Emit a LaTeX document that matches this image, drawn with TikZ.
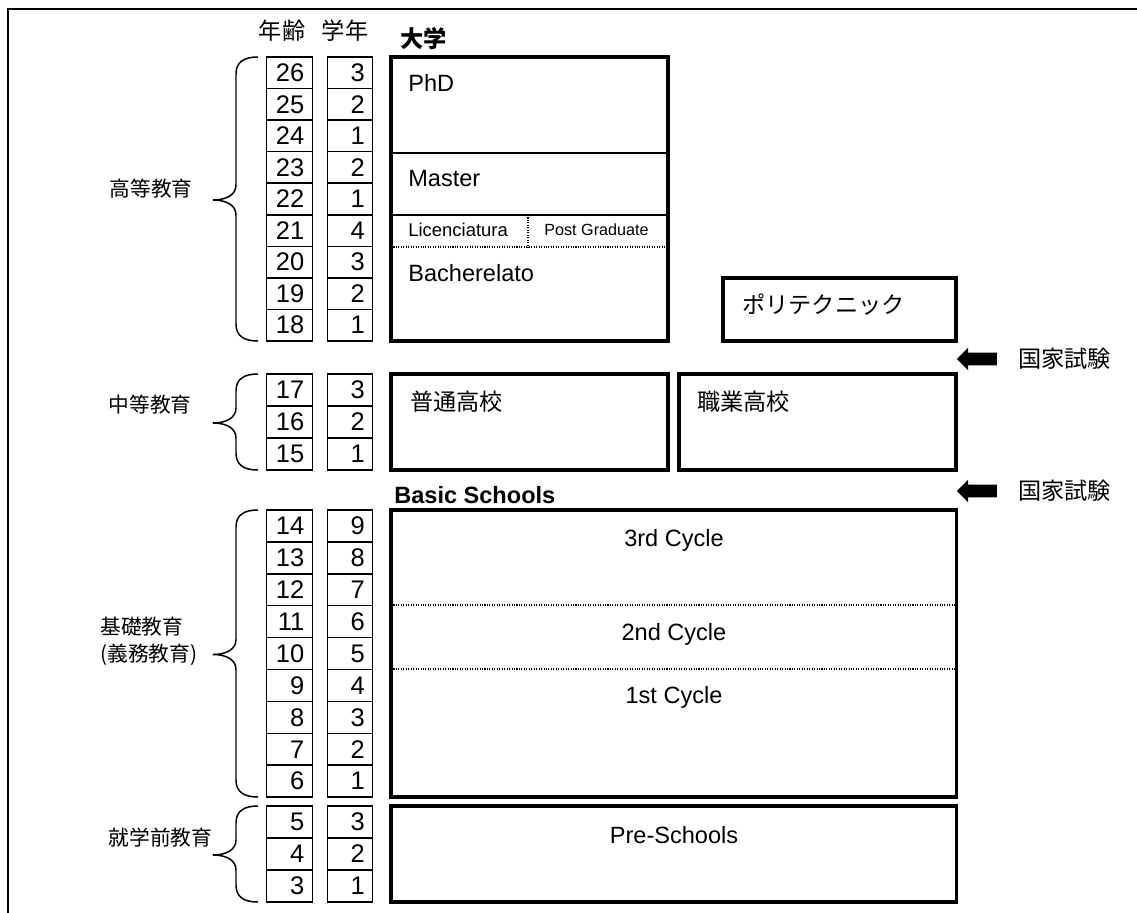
\documentclass[tikz,border=0pt]{standalone}
\usepackage{fontspec}
\setmainfont{Liberation Sans}
\newfontfamily\jp{Noto Sans CJK JP}
\usetikzlibrary{positioning,shapes.arrows}

\begin{document}
\begin{tikzpicture}[x=0.02cm,y=-0.02cm,
  cellbox/.style={draw,line width=0.75pt,minimum width=0.91cm,minimum height=0.635cm,
    inner xsep=0.16cm,inner ysep=0pt,text width=0.59cm,align=right,
    font=\fontsize{14.5}{14.5}\selectfont},
  schoolbox/.style={draw,line width=1.8pt,inner sep=0pt,outer sep=0pt,anchor=north west},
  schoollabel/.style={inner sep=0pt,anchor=base west,font=\fontsize{13.4}{16}\selectfont},
  jplabel/.style={inner sep=0pt,font=\jp\fontsize{13.2}{16}\selectfont},
  edulabel/.style={inner sep=0pt,font=\jp\fontsize{11.8}{15.3}\selectfont},
  bracepath/.style={line width=0.85pt},
  divline/.style={line width=0.75pt},
  dotline/.style={line width=0.8pt,dash pattern=on 0.6pt off 0.8pt},
  examarrow/.style={single arrow,fill=black,draw=none,minimum height=0.8cm,
    inner sep=0.12cm,single arrow head extend=0.1cm,shape border rotate=180}]
\useasboundingbox (0,0) rectangle (1137,913);

% outer frame
\draw[line width=0.85pt] (8,913) -- (8,9) -- (1137,9);

% column heads
\node[jplabel] (agehead) at (282,31) {年齢};
\node[jplabel] (gradehead) at (345,31) {学年};

% age / grade cells
\foreach \age/\gr [count=\i from 0] in {26/3,25/2,24/1,23/2,22/1,21/4,20/3,19/2,18/1} {
  \node[cellbox] (age\age) at (289.5,{57+15.8+31.55*\i}) {\age};
  \node[cellbox] (gr\age) at (350,{57+15.8+31.55*\i}) {\gr};
}
\foreach \age/\gr [count=\i from 0] in {17/3,16/2,15/1} {
  \node[cellbox] (age\age) at (289.5,{374+16+32*\i}) {\age};
  \node[cellbox] (gr\age) at (350,{374+16+32*\i}) {\gr};
}
\foreach \age/\gr [count=\i from 0] in {14/9,13/8,12/7,11/6,10/5,9/4,8/3,7/2,6/1} {
  \node[cellbox] (age\age) at (289.5,{510+15.95+31.9*\i}) {\age};
  \node[cellbox] (gr\age) at (350,{510+15.95+31.9*\i}) {\gr};
}
\foreach \age/\gr [count=\i from 0] in {5/3,4/2,3/1} {
  \node[cellbox] (age\age) at (289.5,{806+16+32*\i}) {\age};
  \node[cellbox] (gr\age) at (350,{806+16+32*\i}) {\gr};
}

% braces
\foreach \t/\b in {57/341,374/470,510/797,806/902} {
  \pgfmathsetmacro\m{(\t+\b)/2+1}
  \draw[bracepath] (258,\t) .. controls (244,\t) and (236,{\t+5}) .. (236,{\t+17})
    -- (236,{\m-15}) .. controls (236,{\m-5}) and (226,\m) .. (213,\m)
    .. controls (226,\m) and (236,{\m+5}) .. (236,{\m+15})
    -- (236,{\b-17}) .. controls (236,{\b-5}) and (244,\b) .. (258,\b);
}
\node[edulabel] (higher) at (151,189) {高等教育};
\node[edulabel] (secondary) at (150,405) {中等教育};
\node[edulabel,anchor=west,align=left] (basic) at (100,641) {基礎教育\\(義務教育)};
\node[edulabel] (preschool) at (160.5,838) {就学前教育};

% university
\node[jplabel,anchor=west,font=\jp\bfseries\fontsize{13.2}{16}\selectfont] (unihead) at (400,39) {大学};
\node[schoolbox,minimum width=5.54cm,minimum height=5.68cm] (univ) at (391,57) {};
\draw[divline] (391,153) -- (668,153);
\draw[divline] (391,215) -- (668,215);
\draw[dotline] (391,247) -- (668,247);
\draw[dotline] (528,215) -- (528,247);
\node[schoollabel] (phd) at (408,91) {PhD};
\node[schoollabel] (master) at (408,186) {Master};
\node[schoollabel,font=\fontsize{10.5}{12}\selectfont] (licen) at (408,236) {Licenciatura};
\node[schoollabel,font=\fontsize{9.2}{11}\selectfont] (postgrad) at (544,235) {Post Graduate};
\node[schoollabel] (bach) at (408,281) {Bacherelato};

% polytechnic
\node[schoolbox,minimum width=4.66cm,minimum height=1.26cm] (poly) at (723,278) {};
\node[jplabel,anchor=west] (polytxt) at (742,305) {ポリテクニック};

% exams
\node[examarrow] (arrowA) at (980,359) {};
\node[jplabel,anchor=west] (examA) at (1018,359) {国家試験};
\node[examarrow] (arrowB) at (980,491) {};
\node[jplabel,anchor=west] (examB) at (1018,491) {国家試験};

% secondary
\node[schoolbox,minimum width=5.54cm,minimum height=1.92cm] (general) at (391,374) {};
\node[jplabel,anchor=west] (generaltxt) at (410,402) {普通高校};
\node[schoolbox,minimum width=5.54cm,minimum height=1.92cm] (vocational) at (679,374) {};
\node[jplabel,anchor=west] (vocationaltxt) at (697,402) {職業高校};

% basic schools
\node[schoollabel,font=\bfseries\fontsize{13.4}{16}\selectfont] (basichead) at (394,503) {Basic Schools};
\node[schoolbox,minimum width=11.32cm,minimum height=5.74cm] (basicbox) at (391,510) {};
\draw[dotline] (391,605) -- (957,605);
\draw[dotline] (391,669) -- (957,669);
\node[schoollabel,anchor=base] (third) at (674,546) {3rd Cycle};
\node[schoollabel,anchor=base] (second) at (674,640) {2nd Cycle};
\node[schoollabel,anchor=base] (first) at (674,703) {1st Cycle};

% pre-schools
\node[schoolbox,minimum width=11.32cm,minimum height=1.92cm] (prebox) at (391,806) {};
\node[schoollabel,anchor=base] (pretxt) at (674,843) {Pre-Schools};
\end{tikzpicture}
\end{document}
